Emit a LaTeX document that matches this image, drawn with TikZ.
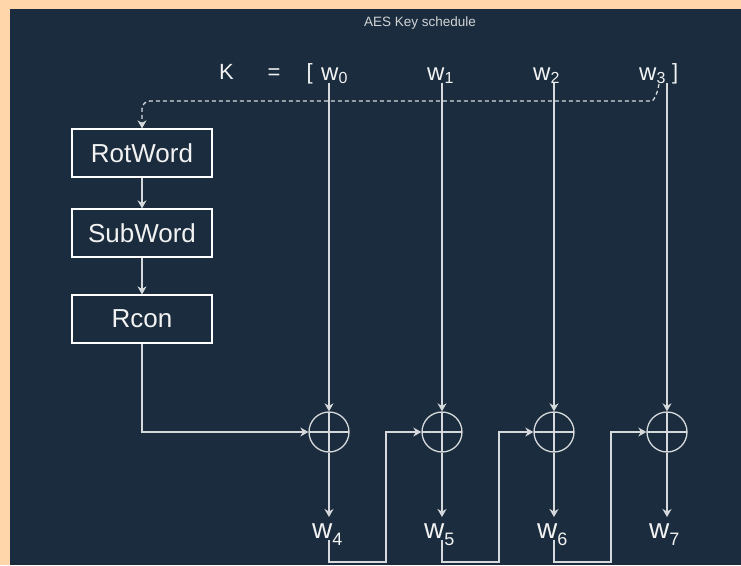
\documentclass[tikz,border=0pt]{standalone}
\usepackage{fontspec}
\setmainfont{Liberation Sans}
\usetikzlibrary{arrows.meta,calc}
\definecolor{peach}{HTML}{FFD6AA}
\definecolor{panel}{HTML}{1A2C3D}
\definecolor{linec}{HTML}{D6D9DC}
\definecolor{textc}{HTML}{F2F2F2}
\newcommand\topw[1]{{\fontsize{24}{24}\selectfont w}\raisebox{-3pt}{\fontsize{16}{16}\selectfont #1}}
\newcommand\botw[1]{{\fontsize{28}{28}\selectfont w}\raisebox{-7pt}{\fontsize{18}{18}\selectfont #1}}
\tikzset{
  conn/.style={draw=linec, line width=1.3pt, -{Stealth[length=8pt,width=9pt,inset=2.5pt]}},
  opbox/.style={draw=white, line width=1.2pt, minimum width=140pt, minimum height=48pt, inner sep=0pt, text=textc, font=\fontsize{26}{30}\selectfont},
  xorc/.style={circle, draw=linec, line width=1.3pt, minimum size=40pt, inner sep=0pt,
    path picture={\draw[linec, line width=1.3pt] (path picture bounding box.north) -- (path picture bounding box.south)
      (path picture bounding box.west) -- (path picture bounding box.east);}},
  lab/.style={inner sep=0pt, text=textc, anchor=base west},
}
\begin{document}
\begin{tikzpicture}[x=1pt, y=-1pt]
\useasboundingbox (0,0) rectangle (741,565);
\fill[peach] (0,0) rectangle (741,565);
\fill[panel] (10,9) rectangle (741,565);

\node[inner sep=0pt, anchor=base, text=textc!85!panel, font=\fontsize{13.5}{15}\selectfont] (title) at (420,26) {AES Key schedule};

% key row
\node[lab, font=\fontsize{22}{24}\selectfont] (K) at (219,79) {K};
\node[inner sep=0pt, anchor=base, text=textc, font=\fontsize{22}{24}\selectfont] (eq) at (274,79) {=};
\node[lab, font=\fontsize{22}{24}\selectfont] (lb) at (306.5,79) {[};
\node[lab] (w0) at (321,80) {\topw{0}};
\node[lab] (w1) at (427,80) {\topw{1}};
\node[lab] (w2) at (533,80) {\topw{2}};
\node[lab] (w3) at (639,80) {\topw{3}};
\node[lab, font=\fontsize{22}{24}\selectfont] (rb) at (672,79) {]};

% boxes
\node[opbox] (rot) at (142,153) {RotWord};
\node[opbox] (sub) at (142,233) {SubWord};
\node[opbox] (rcon) at (142,319) {Rcon};

% xor circles
\node[xorc] (c1) at (329,432) {};
\node[xorc] (c2) at (442,432) {};
\node[xorc] (c3) at (554,432) {};
\node[xorc] (c4) at (667,432) {};

% output words
\node[lab] (w4) at (312,538) {\botw{4}};
\node[lab] (w5) at (424,538) {\botw{5}};
\node[lab] (w6) at (537,538) {\botw{6}};
\node[lab] (w7) at (649,538) {\botw{7}};

% dashed feedback from w3
\coordinate (d0) at (659,84);
\draw[conn, dash pattern=on 4pt off 3pt, rounded corners=8pt]
  (d0) .. controls (657,96) and (653,101) .. (644,101) -- (rot.north |- 0,101) -- (rot.north);

% box chain
\draw[conn] (rot.south) -- (sub.north);
\draw[conn] (sub.south) -- (rcon.north);
\draw[conn] (rcon.south) |- (c1.west);

% inputs to xors
\draw[conn] (c1 |- w0.south) -- (c1.north);
\draw[conn] (c2 |- w1.south) -- (c2.north);
\draw[conn] (c3 |- w2.south) -- (c3.north);
\draw[conn] (c4 |- w3.south) -- (c4.north);

% outputs
\draw[conn, shorten >=6pt] (c1.south) -- (c1 |- w4.north);
\draw[conn, shorten >=6pt] (c2.south) -- (c2 |- w5.north);
\draw[conn, shorten >=6pt] (c3.south) -- (c3 |- w6.north);
\draw[conn, shorten >=6pt] (c4.south) -- (c4 |- w7.north);

% chaining
\draw[conn] ($(c1 |- w4.base)+(0,2)$) -- (329,562) -- (386,562) -- (386,432) -- (c2.west);
\draw[conn] ($(c2 |- w5.base)+(0,2)$) -- (442,562) -- (499,562) -- (499,432) -- (c3.west);
\draw[conn] ($(c3 |- w6.base)+(0,2)$) -- (554,562) -- (611,562) -- (611,432) -- (c4.west);
\end{tikzpicture}
\end{document}
